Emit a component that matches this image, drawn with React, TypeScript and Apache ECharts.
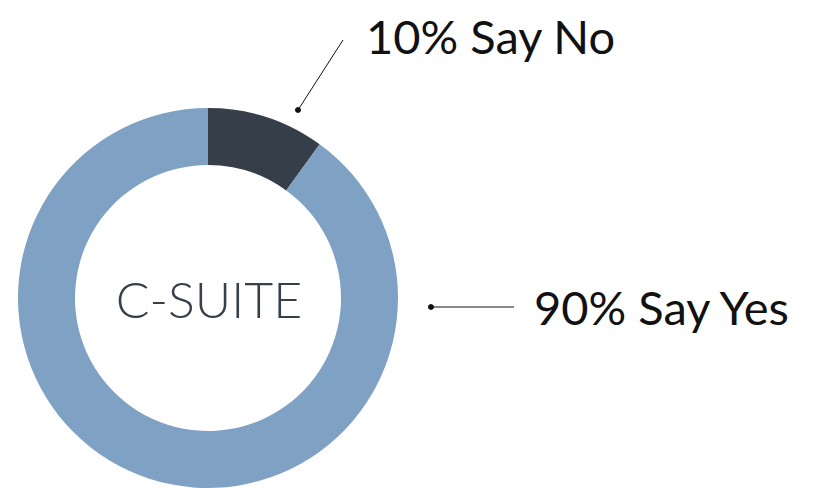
import React, { useEffect, useRef } from "react";
import * as echarts from "echarts";

const categories = ["Say No", "Say Yes"];
const values = [10, 90];
const colors = ["#363f49", "#7fa1c4"];
const centerLabel = "C-SUITE";

export default function App() {
  const ref = useRef<HTMLDivElement>(null);
  useEffect(() => {
    document.body.style.margin = "0";
    const chart = echarts.init(ref.current!, null, { renderer: "svg" });
    const labelPos = [
      { x: 366, y: 36, line: [[298, 110], [343, 40], [343, 40]] },
      { x: 534, y: 307, line: [[431, 307], [514, 307], [514, 307]] },
    ];
    chart.setOption({
      animation: false,
      series: [
        {
          type: "pie",
          center: [208, 298],
          radius: [133, 190],
          startAngle: 90,
          clockwise: true,
          silent: true,
          data: categories.map((c, i) => ({
            name: c,
            value: values[i],
            itemStyle: { color: colors[i] },
          })),
          label: {
            show: true,
            formatter: (p: any) => `${p.value}% ${p.name}`,
            fontFamily: "Lato",
            fontSize: 47,
            color: "#111",
            overflow: "none",
            width: 400,
          },
          labelLine: {
            show: true,
            lineStyle: { color: "#111", width: 1 },
          },
          labelLayout: (params: any) => {
            const lp = labelPos[params.dataIndex];
            return {
              x: lp.x,
              y: lp.y,
              align: "left",
              verticalAlign: "middle",
              labelLinePoints: lp.line,
            };
          },
        },
      ],
      graphic: [
        {
          type: "text",
          x: 209,
          y: 299,
          style: {
            text: centerLabel,
            fontFamily: "Lato",
            fontWeight: 300,
            fontSize: 50,
            fill: "#36404a",
            align: "center",
            verticalAlign: "middle",
          },
        },
        { type: "circle", shape: { cx: 298, cy: 110, r: 3 }, style: { fill: "#111" } },
        { type: "circle", shape: { cx: 431, cy: 307, r: 3 }, style: { fill: "#111" } },
      ],
    });
    return () => chart.dispose();
  }, []);
  return <div ref={ref} style={{ width: 818, height: 488 }} />;
}
